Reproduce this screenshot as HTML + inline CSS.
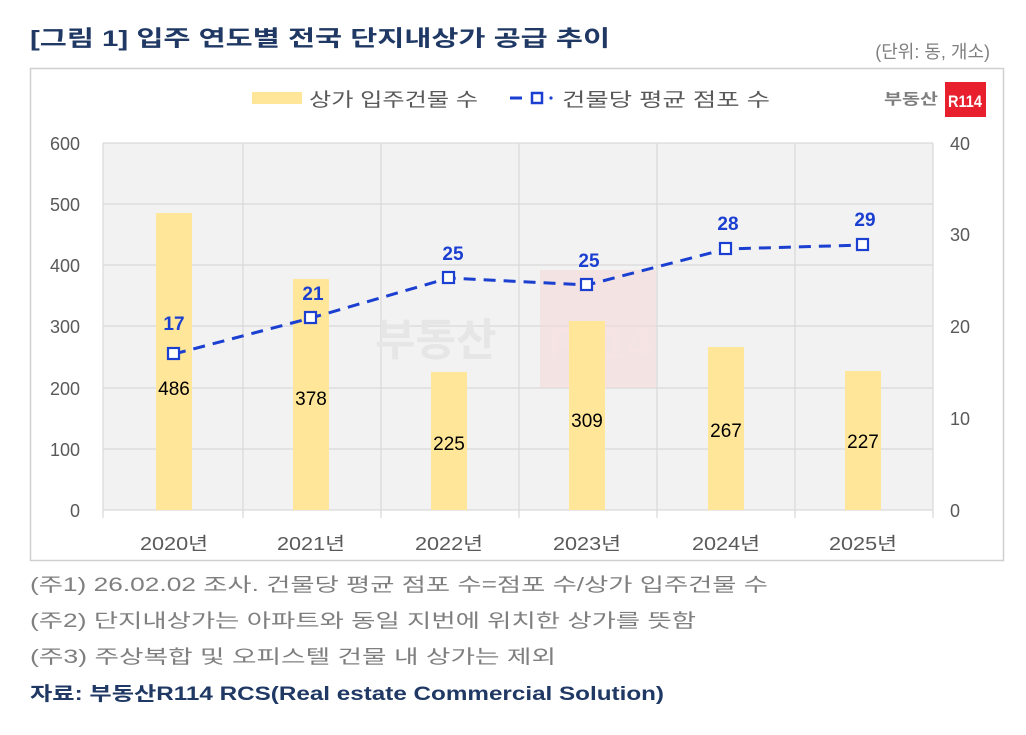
<!DOCTYPE html>
<html><head><meta charset="utf-8"><style>
body{margin:0;background:#fff;width:1026px;height:730px;overflow:hidden;font-family:"Liberation Sans","Noto Sans CJK KR",sans-serif}
</style></head><body>
<svg width="1026" height="730" xmlns="http://www.w3.org/2000/svg" font-family="Liberation Sans, Noto Sans CJK KR, sans-serif">
<text x="30" y="46" font-size="22" font-weight="bold" fill="#1f3864" textLength="580" lengthAdjust="spacingAndGlyphs">[그림 1] 입주 연도별 전국 단지내상가 공급 추이</text>
<text x="990" y="58" font-size="18" fill="#7f7f7f" text-anchor="end">(단위: 동, 개소)</text>
<rect x="30.5" y="68.5" width="973" height="492" fill="#fff" stroke="#d0d0d0" stroke-width="1.5"/>
<!-- legend -->
<rect x="252" y="92" width="50" height="12" fill="#ffe699"/>
<text x="309" y="106" font-size="19" fill="#595959" textLength="169" lengthAdjust="spacingAndGlyphs">상가 입주건물 수</text>
<line x1="510" y1="98" x2="522" y2="98" stroke="#1a3fd1" stroke-width="3"/>
<rect x="532" y="93" width="10" height="10" fill="#fff" stroke="#1a3fd1" stroke-width="2.5"/>
<circle cx="551" cy="98" r="1.6" fill="#1a3fd1"/>
<text x="562" y="106" font-size="19" fill="#595959" textLength="208" lengthAdjust="spacingAndGlyphs">건물당 평균 점포 수</text>
<text x="884" y="104" font-size="15" font-weight="bold" fill="#7f7f7f" textLength="54" lengthAdjust="spacingAndGlyphs">부동산</text>
<rect x="945" y="82" width="41" height="35" fill="#e8202e"/>
<text x="948" y="107" font-size="17" font-weight="bold" fill="#fff" textLength="34" lengthAdjust="spacingAndGlyphs">R114</text>
<!-- plot -->
<rect x="103" y="143" width="830" height="367" fill="#f2f2f2"/>
<g stroke="#d9d9d9" stroke-width="1.2">
<line x1="103" y1="143" x2="933" y2="143"/><line x1="103" y1="204" x2="933" y2="204"/><line x1="103" y1="265" x2="933" y2="265"/><line x1="103" y1="326" x2="933" y2="326"/><line x1="103" y1="388" x2="933" y2="388"/><line x1="103" y1="449" x2="933" y2="449"/>
<line x1="243" y1="143" x2="243" y2="518"/><line x1="381" y1="143" x2="381" y2="518"/><line x1="519" y1="143" x2="519" y2="518"/><line x1="657" y1="143" x2="657" y2="518"/><line x1="795" y1="143" x2="795" y2="518"/><line x1="103" y1="143" x2="103" y2="518"/><line x1="933" y1="143" x2="933" y2="518"/>
<line x1="103" y1="510" x2="933" y2="510"/>
</g>
<!-- watermark -->
<text x="375" y="355" font-size="44" font-weight="bold" fill="#e6e6e6">부동산</text>
<rect x="540" y="270" width="116" height="118" fill="#f4d9d9" opacity="0.6"/>
<text x="548" y="358" font-size="44" font-weight="bold" fill="#f6e4e4">R114</text>
<!-- bars -->
<g fill="#ffe699">
<rect x="156" y="213" width="36" height="297"/>
<rect x="293" y="279" width="36" height="231"/>
<rect x="431" y="372" width="36" height="138"/>
<rect x="569" y="321" width="36" height="189"/>
<rect x="708" y="347" width="36" height="163"/>
<rect x="845" y="371" width="36" height="139"/>
</g>
<g font-size="19" fill="#000" text-anchor="middle">
<text x="174" y="395">486</text><text x="311" y="405">378</text><text x="449" y="450">225</text><text x="587" y="427">309</text><text x="726" y="437">267</text><text x="863" y="448">227</text>
</g>
<!-- axes labels -->
<g font-size="18" fill="#595959" text-anchor="end">
<text x="80" y="150">600</text><text x="80" y="211">500</text><text x="80" y="272">400</text><text x="80" y="333">300</text><text x="80" y="395">200</text><text x="80" y="456">100</text><text x="80" y="517">0</text>
</g>
<g font-size="18" fill="#595959">
<text x="950" y="150">40</text><text x="950" y="241">30</text><text x="950" y="333">20</text><text x="950" y="425">10</text><text x="950" y="517">0</text>
</g>
<g font-size="18" fill="#595959" text-anchor="middle">
<text x="174" y="550" textLength="68" lengthAdjust="spacingAndGlyphs">2020년</text><text x="311" y="550" textLength="68" lengthAdjust="spacingAndGlyphs">2021년</text><text x="449" y="550" textLength="68" lengthAdjust="spacingAndGlyphs">2022년</text><text x="587" y="550" textLength="68" lengthAdjust="spacingAndGlyphs">2023년</text><text x="726" y="550" textLength="68" lengthAdjust="spacingAndGlyphs">2024년</text><text x="863" y="550" textLength="68" lengthAdjust="spacingAndGlyphs">2025년</text>
</g>
<!-- line -->
<polyline points="174,354 311,318 449,278 587,285 726,249 863,245" fill="none" stroke="#1a3fd1" stroke-width="3" stroke-dasharray="12,8"/>
<g fill="#fff" stroke="#1a3fd1" stroke-width="2.2">
<rect x="168" y="348" width="11" height="11"/><rect x="305" y="312" width="11" height="11"/><rect x="443" y="272" width="11" height="11"/><rect x="581" y="279" width="11" height="11"/><rect x="720" y="243" width="11" height="11"/><rect x="857" y="239" width="11" height="11"/>
</g>
<g font-size="19" font-weight="bold" fill="#1a3fd1" text-anchor="middle">
<text x="174" y="330">17</text><text x="313" y="300">21</text><text x="453" y="260">25</text><text x="589" y="267">25</text><text x="728" y="230">28</text><text x="865" y="226">29</text>
</g>
<!-- notes -->
<g font-size="19" fill="#7f7f7f">
<text x="30" y="591" textLength="738" lengthAdjust="spacingAndGlyphs">(주1) 26.02.02 조사. 건물당 평균 점포 수=점포 수/상가 입주건물 수</text>
<text x="30" y="627" textLength="666" lengthAdjust="spacingAndGlyphs">(주2) 단지내상가는 아파트와 동일 지번에 위치한 상가를 뜻함</text>
<text x="30" y="663" textLength="526" lengthAdjust="spacingAndGlyphs">(주3) 주상복합 및 오피스텔 건물 내 상가는 제외</text>
</g>
<text x="30" y="700" font-size="19" font-weight="bold" fill="#1f3864" textLength="634" lengthAdjust="spacingAndGlyphs">자료: 부동산R114 RCS(Real estate Commercial Solution)</text>
</svg>
</body></html>
